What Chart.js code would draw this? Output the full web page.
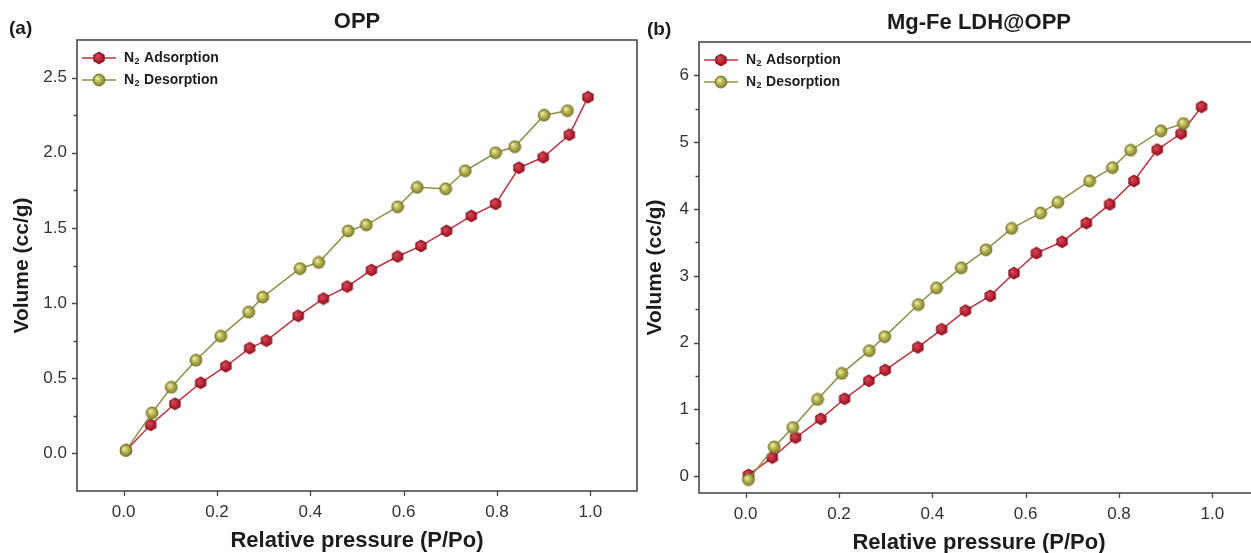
<!DOCTYPE html>
<html>
<head>
<meta charset="utf-8">
<title>N2 adsorption-desorption isotherms</title>
<script src="https://cdn.jsdelivr.net/npm/chart.js@4.4.1/dist/chart.umd.min.js"></script>
<style>
  html, body { margin: 0; padding: 0; background: #fff; overflow: hidden; }
  #wrap { position: relative; width: 1251px; height: 553px; overflow: hidden; }
  canvas { position: absolute; }
  #oppChart { left: 0; top: 0; }
  #ldhChart { left: 622px; top: 2px; }
</style>
</head>
<body>
<div id="wrap">
  <canvas id="oppChart" width="645" height="553"></canvas>
  <canvas id="ldhChart" width="645" height="553"></canvas>
</div>
<script>
// ---- data ----
// (a) OPP
const oppAdsX = [0.005, 0.058, 0.110, 0.165, 0.219, 0.270, 0.306, 0.374, 0.428, 0.479, 0.531, 0.587, 0.637, 0.692, 0.745, 0.797, 0.847, 0.899, 0.955, 0.995]
const oppAdsY = [0.02, 0.19, 0.33, 0.47, 0.58, 0.70, 0.75, 0.915, 1.03, 1.11, 1.22, 1.31, 1.38, 1.48, 1.58, 1.66, 1.90, 1.97, 2.12, 2.37]
const oppDesX = [0.005, 0.061, 0.102, 0.155, 0.208, 0.268, 0.298, 0.378, 0.418, 0.481, 0.520, 0.587, 0.629, 0.690, 0.732, 0.797, 0.838, 0.901, 0.951]
const oppDesY = [0.02, 0.27, 0.44, 0.62, 0.78, 0.94, 1.04, 1.23, 1.27, 1.48, 1.52, 1.64, 1.77, 1.76, 1.88, 2.00, 2.04, 2.25, 2.28]

// (b) Mg-Fe LDH@OPP
const ldhAdsX = [0.006, 0.057, 0.107, 0.161, 0.212, 0.264, 0.299, 0.369, 0.420, 0.471, 0.524, 0.575, 0.623, 0.678, 0.730, 0.780, 0.832, 0.882, 0.933, 0.977]
const ldhAdsY = [0.02, 0.28, 0.58, 0.86, 1.16, 1.43, 1.59, 1.93, 2.20, 2.48, 2.70, 3.04, 3.34, 3.51, 3.79, 4.07, 4.42, 4.89, 5.13, 5.53]
const ldhDesX = [0.006, 0.061, 0.101, 0.154, 0.206, 0.265, 0.298, 0.370, 0.409, 0.462, 0.515, 0.570, 0.632, 0.669, 0.737, 0.786, 0.825, 0.890, 0.938]
const ldhDesY = [-0.05, 0.44, 0.73, 1.15, 1.54, 1.88, 2.09, 2.57, 2.82, 3.12, 3.39, 3.71, 3.94, 4.10, 4.42, 4.62, 4.88, 5.17, 5.28]

// axis ticks
const xTicks = [0, 0.2, 0.4, 0.6, 0.8, 1.0]
const oppYTicks = [0, 0.5, 1.0, 1.5, 2.0, 2.5]
const oppYMinor = [0.25, 0.75, 1.25, 1.75, 2.25]
const ldhYTicks = [0, 1, 2, 3, 4, 5, 6]
const ldhYMinor = [0.5, 1.5, 2.5, 3.5, 4.5, 5.5]

const seriesNames = ["Adsorption", "Desorption"]

// ---- styling ----
const FONT = "'Liberation Sans', Arial, sans-serif"
const AXIS_COLOR = "#4a4a4a"
const TICK_TEXT = "#333"
const TITLE_TEXT = "#1c1c1c"
const ADS_LINE = "#c3303d"
const DES_LINE = "#8f9046"

// red hexagon symbol
function hexagonMarker() {
  const r = 6
  const c = document.createElement("canvas")
  c.width = c.height = 2 * r + 2
  const g = c.getContext("2d")
  const cx = r + 1, cy = r + 1
  const grad = g.createRadialGradient(cx - 2, cy - 2, 0.5, cx, cy, r)
  grad.addColorStop(0, "#d9485a")
  grad.addColorStop(1, "#980d1b")
  g.beginPath()
  for (let k = 0; k < 6; k++) {
    const a = Math.PI / 6 + k * Math.PI / 3
    const px = cx + r * Math.cos(a), py = cy + r * Math.sin(a)
    k ? g.lineTo(px, py) : g.moveTo(px, py)
  }
  g.closePath()
  g.fillStyle = grad
  g.fill()
  g.strokeStyle = "#7a0913"
  g.lineWidth = 0.8
  g.stroke()
  return c
}

// olive shaded ball symbol
function ballMarker() {
  const r = 6
  const c = document.createElement("canvas")
  c.width = c.height = 2 * r + 2
  const g = c.getContext("2d")
  const cx = r + 1, cy = r + 1
  const grad = g.createRadialGradient(cx - 2, cy - 2, 0.5, cx, cy, r)
  grad.addColorStop(0, "#eeeaa8")
  grad.addColorStop(0.55, "#b1ae4a")
  grad.addColorStop(1, "#7f7e2c")
  g.beginPath()
  g.arc(cx, cy, r, 0, Math.PI * 2)
  g.fillStyle = grad
  g.fill()
  g.strokeStyle = "#6f6e28"
  g.lineWidth = 0.8
  g.stroke()
  return c
}

const adsMarker = hexagonMarker()
const desMarker = ballMarker()

function points(xs, ys) {
  return xs.map((x, i) => ({ x: x, y: ys[i] }))
}

// frame, tick marks, titles and the inset legend
const panelDecor = {
  id: "panelDecor",
  afterDraw(chart, args, opts) {
    const ctx = chart.ctx
    const { left, right, top, bottom } = chart.chartArea
    const xs = chart.scales.x
    const ys = chart.scales.y
    ctx.save()

    ctx.strokeStyle = AXIS_COLOR
    ctx.lineWidth = 1.6
    ctx.strokeRect(left, top, right - left, bottom - top)

    ctx.lineWidth = 1.3
    ctx.beginPath()
    opts.yMajor.forEach(v => {
      const p = Math.round(ys.getPixelForValue(v)) + 0.5
      ctx.moveTo(left - 5, p); ctx.lineTo(left, p)
    })
    opts.yMinor.forEach(v => {
      const p = Math.round(ys.getPixelForValue(v)) + 0.5
      ctx.moveTo(left - 3.5, p); ctx.lineTo(left, p)
    })
    xTicks.forEach(v => {
      const p = Math.round(xs.getPixelForValue(v)) + 0.5
      ctx.moveTo(p, bottom); ctx.lineTo(p, bottom + 5)
    })
    ctx.stroke()

    ctx.fillStyle = TITLE_TEXT
    ctx.textBaseline = "middle"

    // panel letter
    ctx.font = "bold 19px " + FONT
    ctx.textAlign = "left"
    ctx.fillText(opts.letter, opts.letterX, opts.letterY)

    // panel title
    ctx.font = "bold 22px " + FONT
    ctx.textAlign = "center"
    ctx.fillText(opts.title, (left + right) / 2, opts.titleY)

    // x axis title
    ctx.fillText("Relative pressure (P/Po)", (left + right) / 2, 541)

    // y axis title
    ctx.save()
    ctx.translate(opts.yTitleX, (top + bottom) / 2)
    ctx.rotate(-Math.PI / 2)
    ctx.font = "bold 21px " + FONT
    ctx.fillText("Volume (cc/g)", 0, 0)
    ctx.restore()

    // legend
    chart.data.datasets.forEach((ds, i) => {
      const y = top + 18 + i * 22
      const x0 = left + 5
      ctx.strokeStyle = ds.borderColor
      ctx.lineWidth = 1.6
      ctx.beginPath()
      ctx.moveTo(x0, y); ctx.lineTo(x0 + 34, y)
      ctx.stroke()
      const m = ds.pointStyle
      ctx.drawImage(m, x0 + 17 - m.width / 2, y - m.height / 2)
      ctx.fillStyle = TITLE_TEXT
      ctx.textAlign = "left"
      ctx.font = "bold 14px " + FONT
      ctx.fillText("N", x0 + 42, y)
      const nw = ctx.measureText("N").width
      ctx.font = "bold 9px " + FONT
      ctx.fillText("2", x0 + 42 + nw + 0.5, y + 4)
      const sw = ctx.measureText("2").width
      ctx.font = "bold 14px " + FONT
      ctx.fillText(ds.label, x0 + 42 + nw + sw + 5, y)
    })

    ctx.restore()
  }
}

function makePanel(canvasId, data, yMin, yMax, yMajor, yMinor, yDigits, decor) {
  const tickFont = { family: FONT, size: 17 }
  return new Chart(document.getElementById(canvasId), {
    type: "scatter",
    data: {
      datasets: [
        {
          label: seriesNames[0],
          data: data.ads,
          showLine: true,
          borderColor: ADS_LINE,
          borderWidth: 1.5,
          pointStyle: adsMarker,
          pointRadius: 6,
          order: 1
        },
        {
          label: seriesNames[1],
          data: data.des,
          showLine: true,
          borderColor: DES_LINE,
          borderWidth: 1.5,
          pointStyle: desMarker,
          pointRadius: 6,
          order: 0
        }
      ]
    },
    options: {
      responsive: false,
      animation: false,
      devicePixelRatio: 1,
      layout: { padding: { top: 40, right: 8, left: 0, bottom: 0 } },
      scales: {
        x: {
          type: "linear",
          min: -0.1,
          max: 1.1,
          afterBuildTicks: s => { s.ticks = xTicks.map(v => ({ value: v })) },
          afterFit: s => { s.height = 62 },
          grid: { display: false, drawTicks: false },
          border: { display: false },
          ticks: {
            padding: 11,
            color: TICK_TEXT,
            font: tickFont,
            maxRotation: 0,
            autoSkip: false,
            callback: v => Number(v).toFixed(1)
          }
        },
        y: {
          type: "linear",
          min: yMin,
          max: yMax,
          afterBuildTicks: s => { s.ticks = yMajor.map(v => ({ value: v })) },
          afterFit: s => { s.width = 77 },
          grid: { display: false, drawTicks: false },
          border: { display: false },
          ticks: {
            padding: 10,
            color: TICK_TEXT,
            font: tickFont,
            autoSkip: false,
            callback: v => Number(v).toFixed(yDigits)
          }
        }
      },
      plugins: {
        legend: { display: false },
        tooltip: { enabled: false },
        panelDecor: Object.assign({ yMajor: yMajor, yMinor: yMinor }, decor)
      }
    },
    plugins: [panelDecor]
  })
}

makePanel(
  "oppChart",
  { ads: points(oppAdsX, oppAdsY), des: points(oppDesX, oppDesY) },
  -0.25, 2.75, oppYTicks, oppYMinor, 1,
  { letter: "(a)", letterX: 9, letterY: 29, title: "OPP", titleY: 22, yTitleX: 22 }
)

makePanel(
  "ldhChart",
  { ads: points(ldhAdsX, ldhAdsY), des: points(ldhDesX, ldhDesY) },
  -0.25, 6.5, ldhYTicks, ldhYMinor, 0,
  { letter: "(b)", letterX: 25, letterY: 28, title: "Mg-Fe LDH@OPP", titleY: 21, yTitleX: 33 }
)
</script>
</body>
</html>
